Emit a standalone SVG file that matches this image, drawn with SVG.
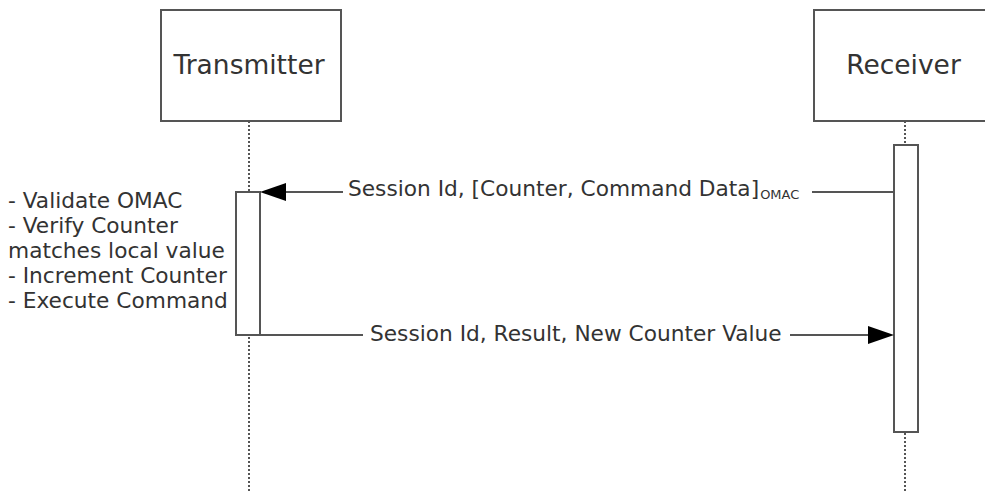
<svg xmlns="http://www.w3.org/2000/svg" width="985" height="491" viewBox="0 0 985 491">
<defs>
<style>
.box{fill:#fff;stroke:#555;stroke-width:2}
.life{stroke:#555;stroke-width:2;stroke-dasharray:2 2;fill:none}
.msg{stroke:#555;stroke-width:2;fill:none}
.t{font-family:"DejaVu Sans",Verdana,sans-serif;fill:#333}
.title{font-size:26.5px;text-anchor:middle}
.lbl{font-size:21.7px}
</style>
</defs>
<rect width="985" height="491" fill="#fff"/>
<g id="lifelines">
<line class="life" x1="249" y1="121" x2="249" y2="491"/>
<line class="life" x1="905" y1="121" x2="905" y2="491"/>
</g>
<g id="transmitter">
<rect class="box" x="161" y="10" width="180" height="111"/>
<text class="t title" x="249" y="74">Transmitter</text>
</g>
<g id="receiver">
<rect class="box" x="814" y="10" width="180" height="111"/>
<text class="t title" x="903.5" y="74">Receiver</text>
</g>
<g id="transmitter-activation">
<rect class="box" x="236" y="192" width="24" height="143"/>
</g>
<g id="receiver-activation">
<rect class="box" x="894" y="145" width="24" height="287"/>
</g>
<g id="note">
<text class="t lbl" x="8"><tspan x="8" y="208">- Validate OMAC</tspan><tspan x="8" y="233">- Verify Counter</tspan><tspan x="8" y="258">matches local value</tspan><tspan x="8" y="283">- Increment Counter</tspan><tspan x="8" y="308">- Execute Command</tspan></text>
</g>
<g id="connectors">
<path class="msg" d="M894,192 H812 M343,192 H285"/>
<polygon points="260,192 286,183 286,201" fill="#000"/>
<path class="msg" d="M260,335 H363 M790,335 H870"/>
<polygon points="894,335 868,326 868,344" fill="#000"/>
<text class="t lbl" x="348" y="196">Session Id, [Counter, Command Data]<tspan font-size="13" dx="1" dy="3">OMAC</tspan></text>
<text class="t lbl" x="370" y="341">Session Id, Result, New Counter Value</text>
</g>
</svg>
